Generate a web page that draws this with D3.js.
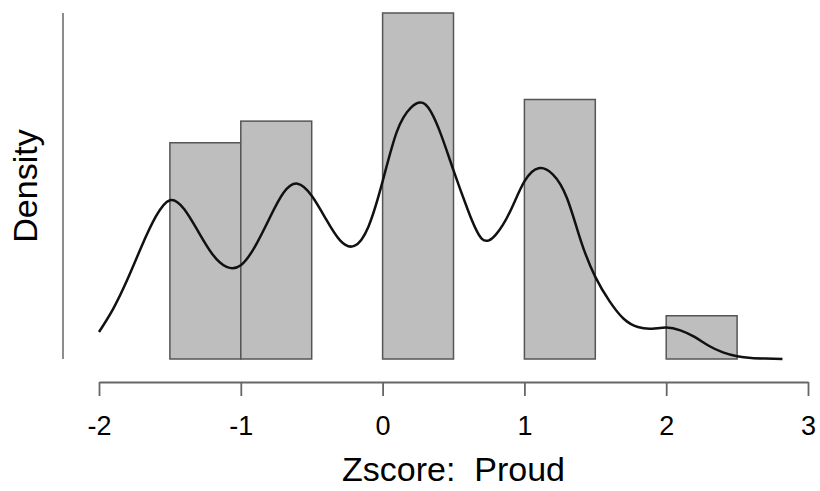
<!DOCTYPE html>
<html>
<head>
<meta charset="utf-8">
<script src="https://cdn.jsdelivr.net/npm/d3@7"></script>
<style>
  html, body { margin: 0; padding: 0; background: #fff; }
  svg text { font-family: "Liberation Sans", Arial, sans-serif; fill: #000; }
</style>
</head>
<body>
<svg id="chart" width="820" height="491"></svg>
<script>
// ---- data ----
const binStarts = [-1.5, -1.0, -0.5, 0.0, 0.5, 1.0, 1.5, 2.0];
const binWidth = 0.5;
const binCounts = [10, 11, 0, 16, 0, 12, 0, 2];
const totalN = 51;

const densityX = [-2.0, -1.9, -1.8, -1.7, -1.6, -1.5, -1.4, -1.3, -1.2, -1.1, -1.0, -0.9, -0.8, -0.7, -0.6, -0.5, -0.4, -0.3, -0.2, -0.1, 0.0, 0.1, 0.2, 0.3, 0.4, 0.5, 0.6, 0.7, 0.8, 0.9, 1.0, 1.1, 1.2, 1.3, 1.4, 1.5, 1.6, 1.7, 1.8, 1.9, 2.0, 2.1, 2.2, 2.3, 2.4, 2.5, 2.6, 2.7, 2.82];
const densityY = [0.049, 0.091, 0.144, 0.204, 0.258, 0.288, 0.272, 0.231, 0.190, 0.167, 0.170, 0.204, 0.254, 0.301, 0.318, 0.296, 0.254, 0.215, 0.205, 0.240, 0.322, 0.412, 0.456, 0.462, 0.415, 0.342, 0.271, 0.218, 0.226, 0.268, 0.322, 0.346, 0.335, 0.292, 0.213, 0.149, 0.105, 0.073, 0.058, 0.055, 0.057, 0.052, 0.040, 0.024, 0.012, 0.005, 0.002, 0.001, 0.0];

const xTicks = [-2, -1, 0, 1, 2, 3];
const xTitle = "Zscore:  Proud";
const yTitle = "Density";

// ---- chart ----
const svg = d3.select("#chart");
const barDensity = binCounts.map(c => c / (totalN * binWidth));
const yMax = d3.max(barDensity);

const x = d3.scaleLinear().domain([-2, 3]).range([99, 808]);
const y = d3.scaleLinear().domain([0, yMax]).range([359, 13]);

// bars
svg.append("g").selectAll("rect")
  .data(binStarts)
  .join("rect")
  .attr("x", (d) => x(d))
  .attr("width", (d) => x(d + binWidth) - x(d))
  .attr("y", (d, i) => y(barDensity[i]))
  .attr("height", (d, i) => y(0) - y(barDensity[i]))
  .attr("fill", "#bebebe")
  .attr("stroke", "#555")
  .attr("stroke-width", 1.5);

// density curve
const line = d3.line()
  .x((d, i) => x(densityX[i]))
  .y((d, i) => y(densityY[i]))
  .curve(d3.curveNatural);
svg.append("path")
  .datum(densityX)
  .attr("d", line)
  .attr("fill", "none")
  .attr("stroke", "#111")
  .attr("stroke-width", 2.5);

// y axis (line only)
svg.append("line")
  .attr("x1", 63).attr("x2", 63)
  .attr("y1", y(yMax)).attr("y2", y(0))
  .attr("stroke", "#666").attr("stroke-width", 1.5);

// x axis
const xAxis = svg.append("g")
  .attr("transform", "translate(0,382)")
  .call(d3.axisBottom(x).tickValues(xTicks).tickSize(14).tickSizeOuter(0).tickPadding(20)
        .tickFormat(d => String(d)));
xAxis.select(".domain").attr("stroke", "#666").attr("stroke-width", 1.8);
xAxis.selectAll(".tick line").attr("stroke", "#666").attr("stroke-width", 1.8);
xAxis.selectAll(".tick text")
  .attr("font-size", 27)
  .attr("dy", "0.71em")
  .style("font-family", "'Liberation Sans', Arial, sans-serif")
  .attr("fill", "#222");

// axis titles
svg.append("text")
  .attr("x", x(0.5)).attr("y", 481)
  .attr("text-anchor", "middle")
  .attr("font-size", 34)
  .style("white-space", "pre")
  .attr("xml:space", "preserve")
  .text(xTitle);

svg.append("text")
  .attr("transform", `translate(37,${(13 + 359) / 2}) rotate(-90)`)
  .attr("text-anchor", "middle")
  .attr("font-size", 34)
  .text(yTitle);
</script>
</body>
</html>
